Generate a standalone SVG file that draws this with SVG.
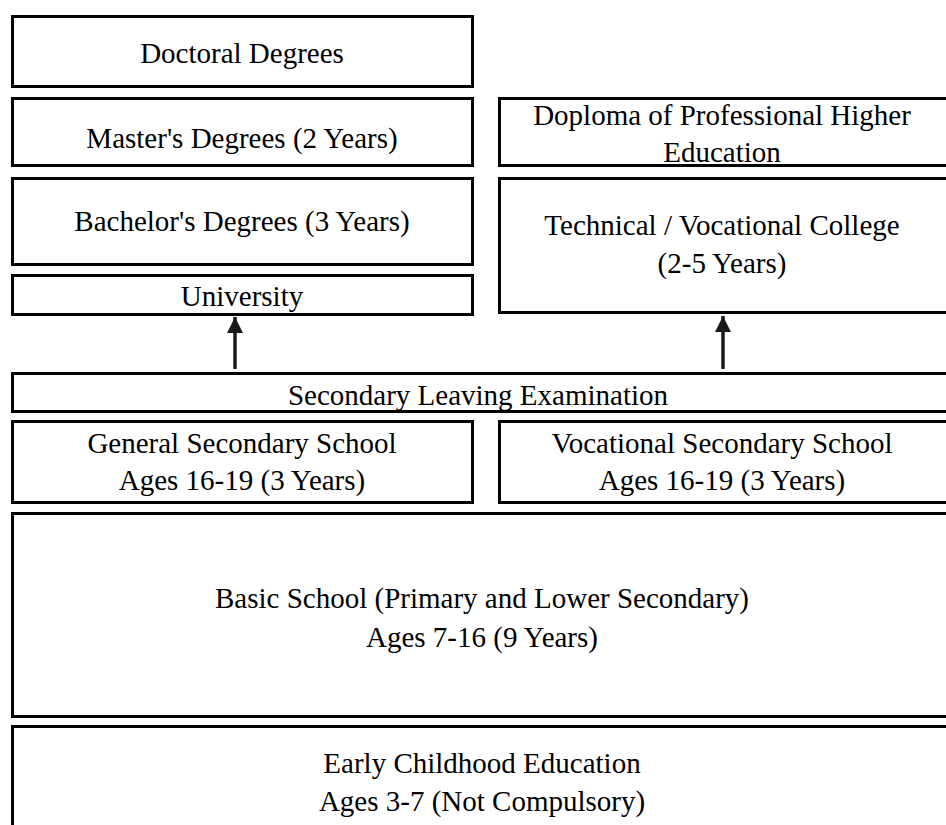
<svg xmlns="http://www.w3.org/2000/svg" width="946" height="825" viewBox="0 0 946 825">
<style>
.box{fill:#fff;stroke:#000;stroke-width:3}
.t{font-family:'Liberation Serif','Times New Roman',Tinos,'DejaVu Serif',serif;font-size:29px;fill:#000;text-anchor:middle}
.c{stroke:#1a1a1a;stroke-width:3.5;fill:none}
</style>
<defs>
<marker id="ah" markerUnits="userSpaceOnUse" markerWidth="18" markerHeight="18" refX="16" refY="8" orient="auto">
<path d="M0,0 L16,8 L0,16 Z" fill="#1a1a1a"/>
</marker>
</defs>
<rect width="946" height="825" fill="#fff"/>
<g id="doctoral"><rect class="box" x="12.5" y="16.5" width="460" height="70"/><text class="t" x="242" y="63">Doctoral Degrees</text></g>
<g id="masters"><rect class="box" x="12.5" y="98.5" width="460" height="67"/><text class="t" x="242" y="148">Master's Degrees (2 Years)</text></g>
<g id="bachelors"><rect class="box" x="12.5" y="178.5" width="460" height="86"/><text class="t" x="242" y="231">Bachelor's Degrees (3 Years)</text></g>
<g id="university"><rect class="box" x="12.5" y="275.5" width="460" height="39"/><text class="t" x="242" y="306">University</text></g>
<g id="diploma"><rect class="box" x="499.5" y="98.5" width="460" height="67"/><text class="t" x="722" y="125">Doploma of Professional Higher</text><text class="t" x="722" y="162">Education</text></g>
<g id="college"><rect class="box" x="499.5" y="178.5" width="460" height="134"/><text class="t" x="722" y="235">Technical / Vocational College</text><text class="t" x="722" y="273">(2-5 Years)</text></g>
<g id="sle"><rect class="box" x="12.5" y="373.5" width="950" height="38"/><text class="t" x="478" y="405">Secondary Leaving Examination</text></g>
<g id="general"><rect class="box" x="12.5" y="421.5" width="460" height="81"/><text class="t" x="242" y="453">General Secondary School</text><text class="t" x="242" y="490">Ages 16-19 (3 Years)</text></g>
<g id="vocational"><rect class="box" x="499.5" y="421.5" width="460" height="81"/><text class="t" x="722" y="453">Vocational Secondary School</text><text class="t" x="722" y="490">Ages 16-19 (3 Years)</text></g>
<g id="basic"><rect class="box" x="12.5" y="513.5" width="950" height="203"/><text class="t" x="482" y="608">Basic School (Primary and Lower Secondary)</text><text class="t" x="482" y="647">Ages 7-16 (9 Years)</text></g>
<g id="early"><rect class="box" x="12.5" y="726.5" width="950" height="200"/><text class="t" x="482" y="773">Early Childhood Education</text><text class="t" x="482" y="811">Ages 3-7 (Not Compulsory)</text></g>
<g id="connectors">
<line class="c" x1="235" y1="369" x2="235" y2="317" marker-end="url(#ah)"/>
<line class="c" x1="723" y1="369" x2="723" y2="316" marker-end="url(#ah)"/>
</g>
</svg>
